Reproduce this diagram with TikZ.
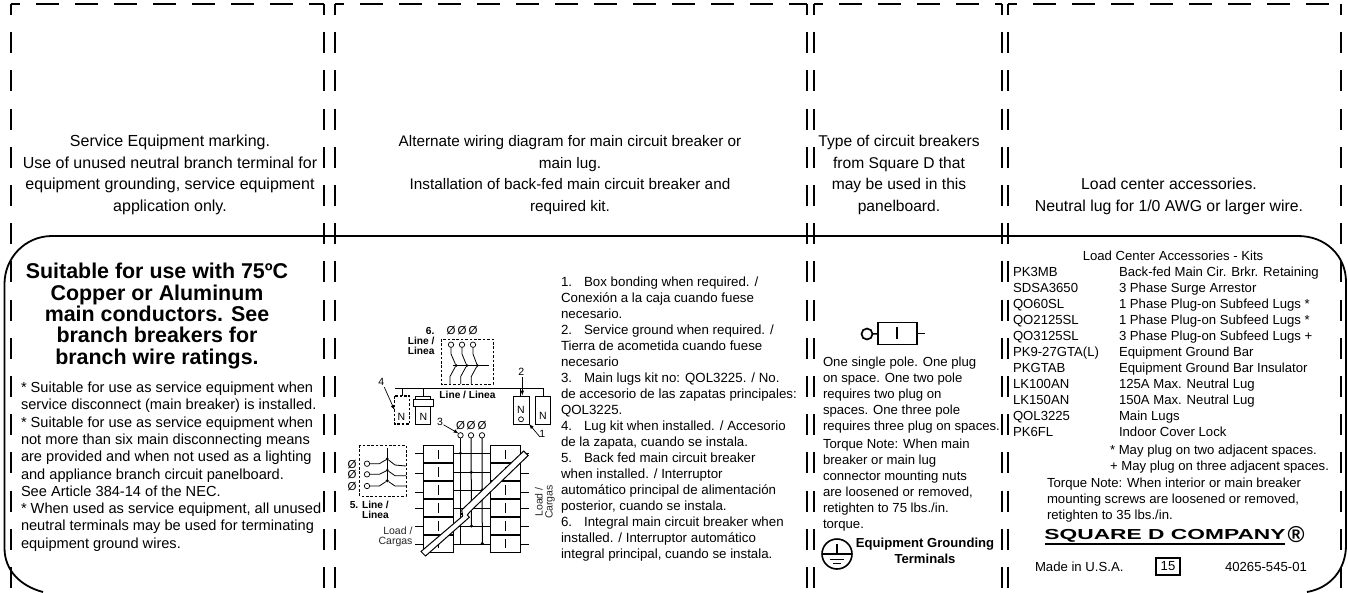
\documentclass[tikz,border=0pt]{standalone}
\usepackage{fontspec}
\setmainfont{Liberation Sans}
\usetikzlibrary{arrows}
\usetikzlibrary{positioning}
\begin{document}
\begin{tikzpicture}[x=1pt, y=-1pt, inner sep=0pt, outer sep=0pt,
    cutv/.style={line width=1.7pt, dash pattern=on 21pt off 17.2pt, dash phase=10pt},
    cuth/.style={line width=1.7pt, dash pattern=on 23pt off 16pt, dash phase=14pt},
    toptext/.style={align=center, font=\fontsize{15.6}{21.7}\selectfont},
    bodytext/.style={align=left, anchor=north west, font=\fontsize{13.15}{16}\selectfont},
    plain/.style={font=\fontsize{13.15}{16}\selectfont},
    wire/.style={line width=0.8pt},
    thickwire/.style={line width=1.4pt},
    boxdash/.style={line width=0.9pt, dash pattern=on 2.6pt off 1.8pt},
    callout/.style={line width=0.7pt, -latex},
    term/.style={circle, draw, line width=0.7pt, fill=white, minimum size=5.4pt},
    junction/.style={circle, fill=black, minimum size=3.2pt},
    nbox/.style={draw, line width=0.9pt, minimum width=15.4pt, minimum height=28pt, anchor=north west},
    phase/.style={font=\fontsize{11.5}{12}\selectfont},
    small/.style={font=\fontsize{10.5}{10}\selectfont},
    smallbold/.style={font=\fontsize{10.2}{10}\selectfont\bfseries, align=right, anchor=north east}]
    \useasboundingbox (0,0) rectangle (1348,592);
    \foreach \xa/\xb in {11/324, 335/807, 814/1002, 1008/1341} {
        \draw[cuth] (\xa,4) -- (\xb,4);
        \draw[cutv] (\xa,4) -- (\xa,592);
        \draw[cutv] (\xb,4) -- (\xb,592);
    }
    \draw[line width=1.8pt] (43,592) .. controls (20,586) and (4.5,570) .. (4.5,548) -- (4.5,284)
        .. controls (4.5,258) and (25,236) .. (52,236) -- (1298,236)
        .. controls (1326,236) and (1346,256) .. (1346,282) -- (1346,545)
        .. controls (1346,570) and (1330,588) .. (1307,592);

    \node[toptext, font=\fontsize{16}{21.7}\selectfont] (serviceinfo) at (170,175) {Service Equipment marking.\\Use of unused neutral branch terminal for\\equipment grounding, service equipment\\application only.};
    \node[toptext, font=\fontsize{15.3}{21.7}\selectfont] (wiringinfo) at (570,175) {Alternate wiring diagram for main circuit breaker or\\main lug.\\Installation of back-fed main circuit breaker and\\required kit.};
    \node[toptext] (breakerinfo) at (899,175) {Type of circuit breakers\\from Square D that\\may be used in this\\panelboard.};
    \node[toptext, font=\fontsize{15.8}{22}\selectfont] (accinfo) at (1169,196) {Load center accessories.\\Neutral lug for 1/0 AWG or larger wire.};

    \node[align=center, font=\fontsize{21.4}{21.3}\selectfont\bfseries] (ratinghead) at (157,316) {Suitable for use with 75ºC\\Copper or Aluminum\\main conductors. See\\branch breakers for\\branch wire ratings.};
    \node[align=left, anchor=north west, font=\fontsize{14.6}{17.3}\selectfont] (ratingnotes) at (21,382) {* Suitable for use as service equipment when\\service disconnect (main breaker) is installed.\\* Suitable for use as service equipment when\\not more than six main disconnecting means\\are provided and when not used as a lighting\\and appliance branch circuit panelboard.\\See Article 384-14 of the NEC.\\* When used as service equipment, all unused\\neutral terminals may be used for terminating\\equipment ground wires.};

    \node[bodytext, font=\fontsize{13.3}{16}\selectfont] (wiringnotes) at (561,277) {1.\hspace{12pt}Box bonding when required. /\\Conexión a la caja cuando fuese\\necesario.\\2.\hspace{12pt}Service ground when required. /\\Tierra de acometida cuando fuese\\necesario\\3.\hspace{12pt}Main lugs kit no: QOL3225. / No.\\de accesorio de las zapatas principales:\\QOL3225.\\4.\hspace{12pt}Lug kit when installed. / Accesorio\\de la zapata, cuando se instala.\\5.\hspace{12pt}Back fed main circuit breaker\\when installed. / Interruptor\\automático principal de alimentación\\posterior, cuando se instala.\\6.\hspace{12pt}Integral main circuit breaker when\\installed. / Interruptor automático\\integral principal, cuando se instala.};

    \node[circle, draw, line width=1.7pt, minimum size=11pt] (poleterm) at (867,334) {};
    \node[draw, line width=1.4pt, minimum width=39pt, minimum height=22pt] (polebox) at (897.5,333.5) {};
    \draw[line width=1.4pt] (poleterm) -- (polebox);
    \draw[line width=1.4pt] (polebox.east) -- +(8,0);
    \draw[line width=1.4pt] (897,327) -- (897,339);
    \node[bodytext] (polenotes) at (823,357) {One single pole. One plug\\on space. One two pole\\requires two plug on\\spaces. One three pole\\requires three plug on spaces.};
    \node[bodytext] (torquenotes) at (823,439) {Torque Note: When main\\breaker or main lug\\connector mounting nuts\\are loosened or removed,\\retighten to 75 lbs./in.\\torque.};
    \node[circle, draw, line width=1.6pt, minimum size=30pt] (gndsym) at (837,554) {};
    \draw[line width=1.2pt] (gndsym.west) -- (gndsym.east);
    \draw[line width=1.2pt] (837,544) -- (837,554);
    \draw[line width=1.1pt] (830,559.5) -- (844,559.5);
    \draw[line width=1.1pt] (833,563.5) -- (841,563.5);
    \node[align=center, font=\fontsize{13.1}{16}\selectfont\bfseries] (gndtext) at (925,551) {Equipment Grounding\\Terminals};

    \node[plain] (kittitle) at (1173,256) {Load Center Accessories - Kits};
    \foreach \code/\item [count=\i] in {PK3MB/Back-fed Main Cir. Brkr. Retaining, SDSA3650/3 Phase Surge Arrestor, QO60SL/1 Phase Plug-on Subfeed Lugs *, QO2125SL/1 Phase Plug-on Subfeed Lugs *, QO3125SL/3 Phase Plug-on Subfeed Lugs +, PK9-27GTA(L)/Equipment Ground Bar, PKGTAB/Equipment Ground Bar Insulator, LK100AN/125A Max. Neutral Lug, LK150AN/150A Max. Neutral Lug, QOL3225/Main Lugs, PK6FL/Indoor Cover Lock} {
        \node[plain, anchor=base west] (kitcode\i) at (1013,256+16*\i+4.5) {\code};
        \node[plain, anchor=base west] (kititem\i) at (1119,256+16*\i+4.5) {\item};
    }
    \node[bodytext] (plugnotes) at (1110,445) {* May plug on two adjacent spaces.\\+ May plug on three adjacent spaces.};
    \node[bodytext] (kittorque) at (1047,478) {Torque Note: When interior or main breaker\\mounting screws are loosened or removed,\\retighten to 35 lbs./in.};
    \node[font=\fontsize{14.5}{16}\selectfont\bfseries, xscale=1.57] (logotext) at (1165,536) {SQUARE D COMPANY};
    \draw[line width=1.6pt] (1045,544) -- (1285,544);
    \node[font=\fontsize{23}{23}\selectfont\bfseries] (logomark) at (1296,535) {®};
    \node[plain, anchor=base west] (madein) at (1035,571.5) {Made in U.S.A.};
    \node[draw, line width=1.3pt, minimum width=24pt, minimum height=17pt, plain] (platenum) at (1168,566.5) {15};
    \node[plain, anchor=base west] (partnum) at (1225,571.5) {40265-545-01};

    \node[smallbold] (mainmark) at (434.5,327.5) {6.};
    \node[smallbold] (mainlabel) at (434.5,337.5) {Line /\\Linea};
    \draw[boxdash] (441,339) rectangle (493,384);
    \foreach \x/\k in {451/1, 462/2, 473/3} {
        \node[phase] (mainphi\k) at (\x,331) {Ø};
        \node[term] (mainterm\k) at (\x,344.7) {};
    }
    \draw[wire] (453,365.5) -- (488.5,365.5);
    \foreach \k/\xa/\xd/\xb in {1/451/456/450, 2/462/466.7/460.7, 3/473/477.3/471.3} {
        \node[junction] (maindot\k) at (\xd,365.5) {};
        \draw[wire] (mainterm\k) -- (\xa,354) -- (maindot\k) -- (\xb,376.5) -- (\xb,384);
    }

    \coordinate (busleft) at (395,388);
    \coordinate (busright) at (543.3,388);
    \draw[line width=1pt] (busleft) -- (busright);
    \node[nbox, draw=none] (lugbox) at (394.5,396) {};
    \draw[boxdash, line width=1.1pt] (lugbox.north west) rectangle (lugbox.south east);
    \node[small] (lugn) at (401.5,416.5) {N};
    \node[nbox] (mainn) at (415.3,396) {};
    \node[draw, fill=white, line width=0.9pt, minimum width=20pt, minimum height=6.6pt] (mainnbar) at (423.3,403) {};
    \node[small] (mainntext) at (423.3,417) {N};
    \node[nbox] (grdn) at (513.7,396) {};
    \node[small] (grdntext) at (521,410) {N};
    \node[term, minimum size=5pt] (grdnterm) at (521,419.3) {};
    \node[nbox] (sparen) at (535.3,396) {};
    \node[small] (sparentext) at (543,415.7) {N};
    \foreach \n in {lugbox, mainn, sparen}
        \draw[wire] (\n.north) -- (\n.north |- busleft);
    \draw[wire] (grdn.north) ++(-1,0) -- ++(0,-8);
    \node[font=\fontsize{10.2}{10}\selectfont\bfseries] (busline) at (467.5,395.3) {Line / Linea};
    \node[small] (mark2) at (521.3,372.3) {2};
    \node[small] (mark4) at (381.3,381.7) {4};
    \node[small] (mark1) at (542.3,434.3) {1};
    \node[small] (mark3) at (440,422.3) {3};
    \draw[callout] (mark2) ++(1,5) -- (522.3,395.5);
    \draw[callout] (mark4) ++(3,5.5) -- (lugbox.west);
    \draw[callout] (mark1) ++(-2.5,2.5) -- (grdn.south east);

    \foreach \x/\k in {460.5/1, 471/2, 482/3} {
        \node[phase] (lugphi\k) at (\x,425.7) {Ø};
        \node[term] (lugterm\k) at (\x,435.3) {};
    }
    \draw[callout] (mark3) ++(3.5,2.5) -- (lugterm1.north west);

    \foreach \cx/\col in {423.7/left, 490.7/right} {
        \foreach \yy [count=\r] in {445.3, 463, 481, 499, 517, 534.5} {
            \node[draw, line width=0.9pt, minimum width=29.6pt, minimum height=18pt, anchor=north west] (\col cell\r) at (\cx,\yy) {};
            \draw[line width=0.9pt] (\col cell\r.center) ++(0,-4.7) -- ++(0,9.4);
        }
    }
    \foreach \r in {2,...,6} {
        \draw[thickwire] (leftcell\r.north west) -- (leftcell\r.north east);
        \draw[thickwire] (rightcell\r.north west) -- (rightcell\r.north east);
    }
    \foreach \r/\yy in {1/453.3, 2/473, 3/492.3, 4/508.7, 5/526, 6/544} {
        \coordinate (lstub\r) at (415,\yy);
        \coordinate (lfree\r) at (423.7,\yy);
        \coordinate (rstart\r) at (520.3,\yy);
        \coordinate (rstub\r) at (528.7,\yy);
        \draw[wire] (lstub\r) -- (lfree\r);
        \draw[wire] (rstart\r) -- (rstub\r);
    }
    \foreach \r/\yy in {1/453.3, 2/472.3, 3/490, 4/508.7, 5/526, 6/544}
        \draw[wire] (453.3,\yy) -- (490.7,\yy);
    \draw[line width=1pt] (lugterm1) -- (460.5,544);
    \draw[line width=1pt] (lugterm2) -- (471.5,526);
    \draw[line width=1pt] (lugterm3) -- (482.3,543.5);
    \node[junction] (lugdot1) at (460.5,453.3) {};
    \node[junction] (lugdot2) at (471.3,472.3) {};
    \node[junction] (lugdot3) at (482.3,490) {};
    \node[junction] (lugdot5) at (471.5,526) {};
    \node[junction] (lugdot6) at (482.3,543.5) {};

    \draw[fill=white, line width=1pt] (523.7,451) -- (528.2,455.5) -- (470,511.7) -- (467.3,515) -- (469.3,517.3) -- (425.5,556) -- (421,551.5) -- (462.7,516) -- (461.7,510) -- cycle;
    \node[junction, minimum size=2.4pt] (lugdot4) at (461.5,514) {};

    \node[small, align=right, anchor=north east, text=black!85] (loadleft) at (412.5,527) {Load /\\Cargas};
    \node[small, rotate=90, align=center, text=black!85] (loadright) at (545,502) {Load /\\Cargas};

    \draw[boxdash] (359.7,445) rectangle (406,496);
    \draw[wire] (387.3,448) -- (387.3,481);
    \foreach \k/\yp/\yt/\yd/\ys/\ye in {1/465/463.7/459/465/466, 2/475/474.3/470.3/475.7/475.7, 3/486.7/486/480.7/486/486} {
        \node[phase] (backphi\k) at (352,\yp) {Ø};
        \node[term] (backterm\k) at (367,\yt) {};
        \node[junction] (backdot\k) at (387.3,\yd) {};
        \draw[wire] (backterm\k) -- (379.3,\yt) -- (backdot\k) -- (395,\ys) -- (406,\ye);
    }
    \node[smallbold] (backlabel) at (388.7,501) {5. Line /\\Linea};
\end{tikzpicture}
\end{document}
